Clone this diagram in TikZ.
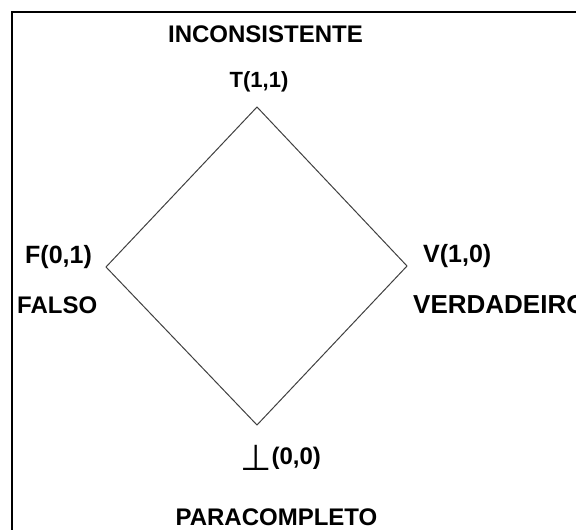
\documentclass[tikz,border=0pt]{standalone}
\usepackage{fontspec}
\setmainfont{Liberation Sans}
\newfontfamily\symfont{DejaVu Sans}
\usepackage{tikz}
\usetikzlibrary{positioning}

\begin{document}
\begin{tikzpicture}[
    x=1pt, y=-1pt,
    lbl/.style={inner sep=0pt, font=\bfseries},
    edge/.style={draw=black!75, line width=1pt},
    frame/.style={draw=black, line width=2pt}
]
    \useasboundingbox (0,0) rectangle (576,530);
    \draw[frame] (12,12) rectangle (600,560);

    \coordinate (top) at (257,107);
    \coordinate (right) at (407,266);
    \coordinate (bottom) at (257,425);
    \coordinate (left) at (106,267);

    \draw[edge] (top) -- (right) -- (bottom) -- (left) -- cycle;

    \node[lbl, anchor=base] (incons) at (265.5,42) {\fontsize{24}{28}\selectfont INCONSISTENTE};
    \node[lbl, anchor=base] (tlabel) at (259,87) {\fontsize{22}{26}\selectfont T(1,1)};
    \node[lbl, anchor=base west] (flabel) at (25,263) {\fontsize{25}{30}\selectfont F(0,1)};
    \node[lbl, anchor=base west] (falso) at (17,313) {\fontsize{24}{28}\selectfont FALSO};
    \node[lbl, anchor=base west] (vlabel) at (423,262) {\fontsize{25}{30}\selectfont V(1,0)};
    \node[lbl, anchor=base west] (verdad) at (413,313) {\fontsize{26}{30}\selectfont VERDADEIRO};
    \node[lbl, anchor=base west] (blabel) at (240,470) {{\symfont\mdseries\fontsize{36}{40}\selectfont ⊥}\raisebox{6pt}{\fontsize{24}{28}\selectfont (0,0)}};
    \node[lbl, anchor=base] (paracomp) at (276.5,525) {\fontsize{24}{28}\selectfont PARACOMPLETO};
\end{tikzpicture}
\end{document}
